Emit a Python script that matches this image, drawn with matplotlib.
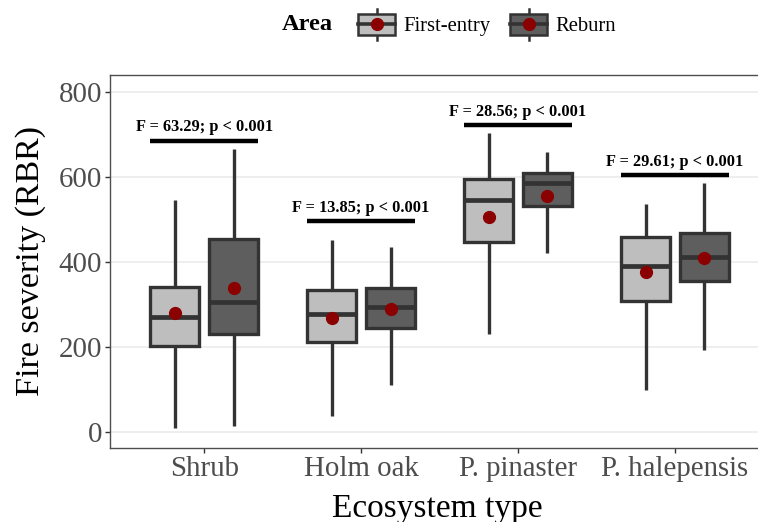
import matplotlib
matplotlib.use("Agg")
import matplotlib.pyplot as plt
from matplotlib.legend_handler import HandlerBase
from matplotlib.patches import Rectangle, Patch
from matplotlib.lines import Line2D
import numpy as np

plt.rcParams['font.family'] = ['Liberation Serif', 'DejaVu Serif']

# ---------------- data ----------------
categories = ["Shrub", "Holm oak", "P. pinaster", "P. halepensis"]
groups = ["First-entry", "Reburn"]

first_whislo = [8, 37, 231, 98]
first_q1 = [202, 212, 446, 307]
first_med = [269, 277, 545, 390]
first_q3 = [340, 333, 594, 459]
first_whishi = [545, 451, 703, 535]
first_mean = [279, 267, 504, 376]

reburn_whislo = [14, 110, 420, 192]
reburn_q1 = [230, 243, 532, 354]
reburn_med = [304, 294, 584, 410]
reburn_q3 = [453, 337, 608, 468]
reburn_whishi = [664, 435, 658, 586]
reburn_mean = [339, 288, 555, 409]

sig_labels = ["F = 63.29; p < 0.001", "F = 13.85; p < 0.001",
              "F = 28.56; p < 0.001", "F = 29.61; p < 0.001"]
sig_y = [685, 496, 721, 604]

y_ticks = [0, 200, 400, 600, 800]

# ---------------- style ----------------
fill_cols = {"First-entry": "#BEBEBE", "Reburn": "#5E5E5E"}
edge_col = "#333333"
mean_col = "#8B0000"

fig = plt.figure(figsize=(7.58, 5.22), dpi=100)
W, H = 758, 522
px_l, px_r, px_t, px_b = 110, 758, 75, 448
ax = fig.add_axes([px_l / W, 1 - px_b / H, (px_r - px_l) / W, (px_b - px_t) / H])

x = np.arange(1, len(categories) + 1)
offset = 0.1875
bw = 0.31

def make_stats(lo, q1, med, q3, hi, mean):
    return [dict(whislo=a, q1=b, med=c, q3=d, whishi=e, mean=f, fliers=[])
            for a, b, c, d, e, f in zip(lo, q1, med, q3, hi, mean)]

series = [
    ("First-entry", make_stats(first_whislo, first_q1, first_med, first_q3, first_whishi, first_mean), -offset),
    ("Reburn", make_stats(reburn_whislo, reburn_q1, reburn_med, reburn_q3, reburn_whishi, reburn_mean), offset),
]

for name, stats, off in series:
    ax.bxp(stats, positions=x + off, widths=bw, patch_artist=True,
           showmeans=True, showcaps=False, showfliers=False,
           boxprops=dict(facecolor=fill_cols[name], edgecolor=edge_col, linewidth=2.4),
           whiskerprops=dict(color=edge_col, linewidth=2.4, solid_capstyle='butt'),
           medianprops=dict(color=edge_col, linewidth=3.4, solid_capstyle='butt'),
           meanprops=dict(marker='o', markerfacecolor=mean_col, markeredgecolor=mean_col,
                          markersize=8.5),
           zorder=3)

# significance bars + labels
for xi, yv, lab in zip(x, sig_y, sig_labels):
    ax.plot([xi - 0.345, xi + 0.345], [yv, yv], color='black', linewidth=3.2,
            solid_capstyle='butt', zorder=4)
    ax.text(xi, yv + 22, lab, ha='center', va='baseline', fontsize=11.8,
            fontweight='bold', color='black', zorder=5)

ax.set_xlim(0.4, 4.529)
ax.set_ylim(-38.4, 839.3)
ax.set_yticks(y_ticks)
ax.set_xticks(x)
ax.set_xticklabels(categories)
ax.yaxis.grid(True, color='#EBEBEB', linewidth=1.2, zorder=0)
ax.xaxis.grid(False)
ax.set_axisbelow(True)
for side in ['top', 'left', 'bottom']:
    ax.spines[side].set_color('#4D4D4D')
    ax.spines[side].set_linewidth(1.0)
ax.spines['right'].set_visible(False)
ax.tick_params(axis='both', length=3.5, width=1.0, color='#333333',
               labelcolor='#4D4D4D', labelsize=20.8, pad=2)
ax.set_ylabel("Fire severity (RBR)", fontsize=24.5, color='black', labelpad=9)
ax.set_xlabel("Ecosystem type", fontsize=24, color='black')
ax.xaxis.label.set_va('baseline')
ax.xaxis.set_label_coords((437.5 - px_l) / (px_r - px_l), (px_b - 516.5) / (px_b - px_t))


# ---------------- legend ----------------
class BoxKeyHandler(HandlerBase):
    def create_artists(self, legend, orig_handle, xdescent, ydescent, width, height,
                       fontsize, trans):
        fc = orig_handle.get_facecolor()
        x0, y0 = -xdescent, -ydescent
        bh = height
        rect = Rectangle((x0, y0), width, bh, facecolor=fc, edgecolor=edge_col,
                         linewidth=1.8, transform=trans)
        cx = x0 + width / 2
        ext = 0.25 * height
        w1 = Line2D([cx, cx], [y0 + bh, y0 + bh + ext], color=edge_col, linewidth=1.8,
                    transform=trans)
        w2 = Line2D([cx, cx], [y0 - ext, y0], color=edge_col, linewidth=1.8,
                    transform=trans)
        med = Line2D([x0, x0 + width], [y0 + bh / 2, y0 + bh / 2], color=edge_col,
                     linewidth=2.6, transform=trans)
        dot = Line2D([cx], [y0 + bh / 2], marker='o', markersize=8.5, color=mean_col,
                     linestyle='None', transform=trans)
        return [w1, w2, rect, med, dot]


handles = [Patch(facecolor=fill_cols[g], label=g) for g in groups]
leg = fig.legend(handles=handles, labels=groups, loc='center left',
                 bbox_to_anchor=(358 / W, 1 - 25 / H), ncol=2, frameon=False,
                 fontsize=14.9, handler_map={Patch: BoxKeyHandler()},
                 handlelength=1.79, handleheight=1.16, handletextpad=0.39,
                 columnspacing=0.97, borderaxespad=0, borderpad=0)
fig.text(282 / W, 1 - 25 / H, "Area", fontsize=17.6, fontweight='bold',
         ha='left', va='center')

fig.savefig("out.png", dpi=100)
